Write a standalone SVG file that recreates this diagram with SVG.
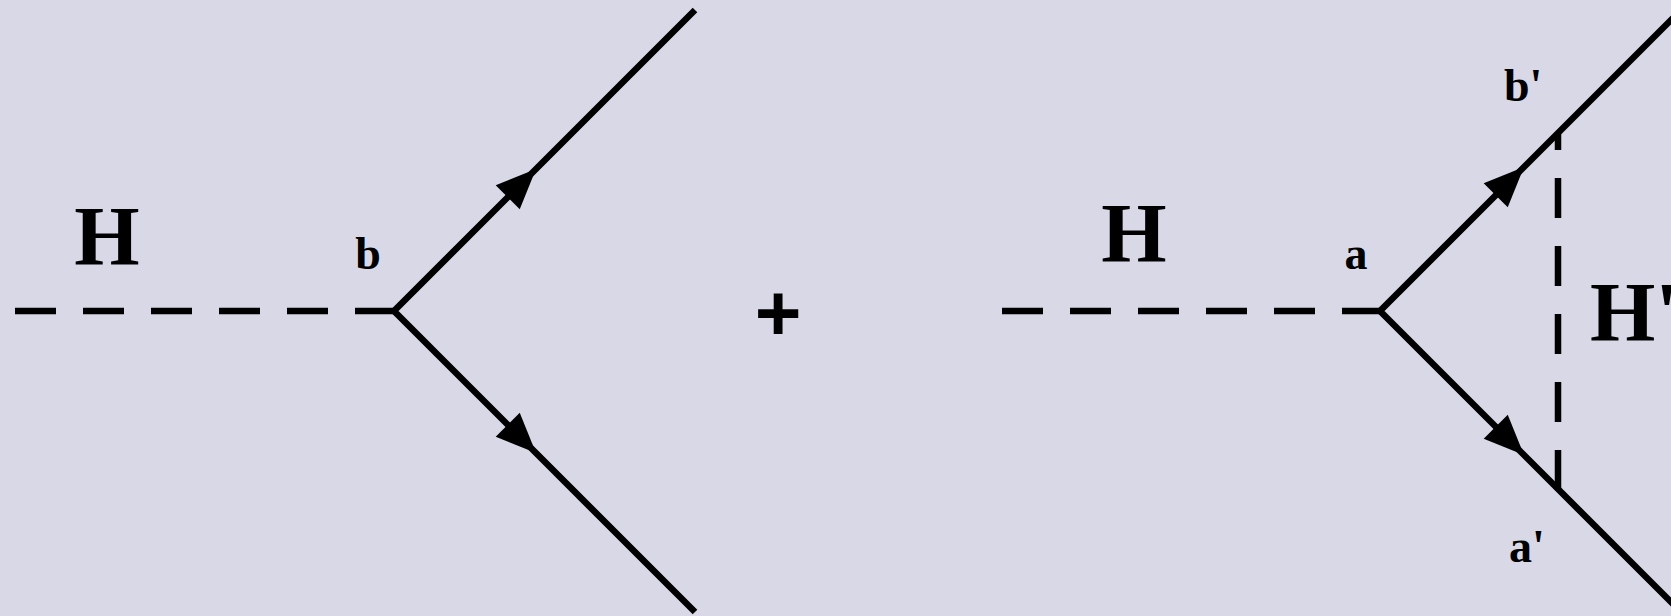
<svg xmlns="http://www.w3.org/2000/svg" width="1671" height="616" viewBox="0 0 1671 616">
<style>
.ln{stroke:#000;stroke-width:6.5;fill:none;stroke-linecap:butt}
.dh{stroke:#000;stroke-width:6.5;fill:none;stroke-dasharray:41 27}
.dv{stroke:#000;stroke-width:6.5;fill:none;stroke-dasharray:40 28}
.big{font-family:"Liberation Serif",serif;font-weight:bold;font-size:84px;fill:#000}
.sm{font-family:"Liberation Serif",serif;font-weight:bold;font-size:46px;fill:#000}
.plus{font-family:"Liberation Sans",sans-serif;font-weight:bold;font-size:80px;fill:#000}
</style>
<defs>
<path id="arr" d="M0,0 L-40,-17 L-40,17 Z" fill="#000"/>
</defs>
<rect width="1671" height="616" fill="#d8d8e7"/>
<g id="connectors">
<path class="dh" d="M15,311 H394"/>
<path class="ln" d="M695,10 L394,311 L695,612"/>
<use href="#arr" transform="translate(536,169) rotate(-45)"/>
<use href="#arr" transform="translate(536,453) rotate(45)"/>
<path class="dh" d="M1002,311 H1380"/>
<path class="ln" d="M1683,8 L1380,311 L1683,614"/>
<use href="#arr" transform="translate(1524,167) rotate(-45)"/>
<use href="#arr" transform="translate(1524,455) rotate(45)"/>
<path class="dv" d="M1558,490 V132"/>
</g>
<g id="label-H-left"><text class="big" x="107" y="265" text-anchor="middle">H</text></g>
<g id="label-b"><text class="sm" x="368" y="269" text-anchor="middle">b</text></g>
<g id="plus"><text class="plus" x="778" y="340" text-anchor="middle">+</text></g>
<g id="label-H-right"><text class="big" x="1134" y="262" text-anchor="middle">H</text></g>
<g id="label-a"><text class="sm" x="1356" y="269" text-anchor="middle">a</text></g>
<g id="label-bp"><text class="sm" x="1504" y="101">b'</text></g>
<g id="label-ap"><text class="sm" x="1509" y="562">a'</text></g>
<g id="label-Hp"><text class="big" x="1590" y="341">H'</text></g>
</svg>
